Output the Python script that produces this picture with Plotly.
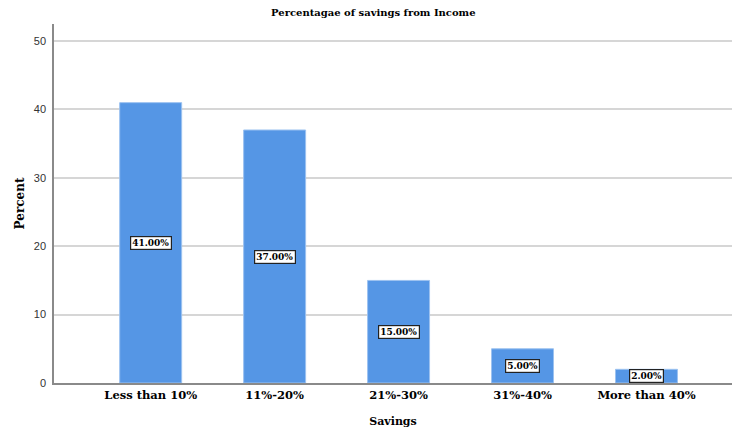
import plotly.graph_objects as go

categories = ["Less than 10%", "11%-20%", "21%-30%", "31%-40%", "More than 40%"]
percent = [41, 37, 15, 5, 2]
labels = ["41.00%", "37.00%", "15.00%", "5.00%", "2.00%"]
y_ticks = [0, 10, 20, 30, 40, 50]

serif = "DejaVu Serif"

fig = go.Figure()
fig.add_trace(go.Bar(
    x=list(range(len(categories))), y=percent, width=0.5,
    marker=dict(color="#5596E5", line=dict(color="#9cc2f0", width=1)),
    hoverinfo="skip",
))

for i, (v, lab) in enumerate(zip(percent, labels)):
    fig.add_annotation(
        x=i, y=v / 2, text=lab, showarrow=False,
        font=dict(family=serif, size=9, color="black", weight="bold"),
        bgcolor="white", bordercolor="#222", borderwidth=1.2, borderpad=1,
    )

fig.update_layout(
    width=732, height=433,
    margin=dict(l=54, r=0, t=24, b=50),
    paper_bgcolor="white", plot_bgcolor="white",
    showlegend=False,
    title=dict(text="Percentagae of savings from Income", x=0.51, xanchor="center",
               y=0.97, yanchor="middle",
               font=dict(family=serif, size=10, color="black", weight="bold")),
    xaxis=dict(
        range=[-0.78, 4.69],
        tickmode="array", tickvals=list(range(len(categories))), ticktext=categories,
        tickfont=dict(family=serif, size=11.5, color="black", weight="bold"),
        showline=True, linecolor="#8a8a8a", linewidth=1.5,
        showgrid=False, ticks="", zeroline=False,
        title=dict(text="Savings", standoff=17,
                   font=dict(family=serif, size=11, color="black", weight="bold")),
    ),
    yaxis=dict(
        range=[0, 52.5],
        tickmode="array", tickvals=y_ticks,
        tickfont=dict(family="Liberation Sans", size=11, color="#333"),
        showline=True, linecolor="#8a8a8a", linewidth=1.5,
        showgrid=True, gridcolor="#d6d6d6", gridwidth=1.5,
        zeroline=False, ticks="", ticklabelstandoff=4,
        title=dict(text="Percent", standoff=7,
                   font=dict(family=serif, size=12, color="black", weight="bold")),
    ),
)

fig.write_html("out.html")
